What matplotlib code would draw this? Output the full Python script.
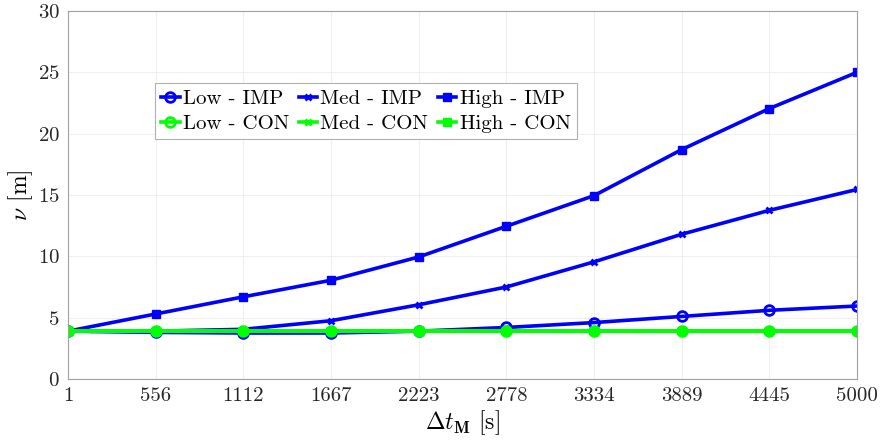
import matplotlib
matplotlib.use("Agg")
import matplotlib.pyplot as plt

x_ticks = [1, 556, 1112, 1667, 2223, 2778, 3334, 3889, 4445, 5000]
low_imp = [3.9, 3.8, 3.75, 3.75, 3.9, 4.2, 4.6, 5.1, 5.6, 5.95]
med_imp = [3.9, 3.9, 4.05, 4.75, 6.05, 7.5, 9.55, 11.8, 13.75, 15.45]
high_imp = [3.9, 5.3, 6.7, 8.05, 9.95, 12.45, 14.95, 18.7, 22.05, 25.0]
low_con = [3.9, 3.9, 3.9, 3.9, 3.9, 3.9, 3.9, 3.9, 3.9, 3.9]
med_con = [3.9, 3.9, 3.9, 3.9, 3.9, 3.9, 3.9, 3.9, 3.9, 3.9]
high_con = [3.9, 3.9, 3.9, 3.9, 3.9, 3.9, 3.9, 3.9, 3.9, 3.9]

plt.rcParams['font.family'] = ['cmr10']
plt.rcParams['mathtext.fontset'] = 'cm'
plt.rcParams['axes.formatter.use_mathtext'] = True

fig = plt.figure(figsize=(8.8, 4.45), dpi=100)
ax = fig.add_axes([68/880, 1-379/445, (857-68)/880, (379-11)/445])

blue = '#0000ff'
green = '#00ff00'
lw = 2.6
ms = 7
h1, = ax.plot(x_ticks, low_imp, color=blue, lw=lw, marker='o', ms=ms, mfc='none', mew=2, label='Low - IMP')
h2, = ax.plot(x_ticks, med_imp, color=blue, lw=lw, marker='x', ms=5, mew=2, label='Med - IMP')
h3, = ax.plot(x_ticks, high_imp, color=blue, lw=lw, marker='s', ms=6, label='High - IMP')
h4, = ax.plot(x_ticks, low_con, color=green, lw=lw, marker='o', ms=ms, mfc='none', mew=2, label='Low - CON')
h5, = ax.plot(x_ticks, med_con, color=green, lw=lw, marker='x', ms=5, mew=2, label='Med - CON')
h6, = ax.plot(x_ticks, high_con, color=green, lw=lw, marker='s', ms=6, label='High - CON')

ax.set_xlim(1, 5000)
ax.set_ylim(0, 30)
ax.set_xticks(x_ticks)
ax.set_xticklabels([str(v) for v in x_ticks])
ax.set_yticks([0, 5, 10, 15, 20, 25, 30])
ax.grid(True, color='#ececec', lw=0.6)
ax.tick_params(direction='in', length=0, labelsize=15, pad=6, colors='#262626')
for s in ax.spines.values():
    s.set_color('#a0a0a0')
    s.set_linewidth(0.8)

ax.set_xlabel(r'$\Delta t_{\mathbf{M}}$ [s]', fontsize=17, labelpad=2)
ax.set_ylabel(r'$\nu$ [m]', fontsize=17, labelpad=2)

handles = [h1, h4, h2, h5, h3, h6]
leg = ax.legend(handles, [h.get_label() for h in handles], ncol=3, loc='upper left',
                bbox_to_anchor=(0.11, 0.804), fontsize=15,
                handlelength=0.9, handletextpad=0.15, columnspacing=0.45,
                labelspacing=0.3, borderpad=0.3, fancybox=False, framealpha=1,
                borderaxespad=0)
leg.get_frame().set_edgecolor('#b0b0b0')
leg.get_frame().set_linewidth(0.8)

fig.savefig('out.png', dpi=100)
